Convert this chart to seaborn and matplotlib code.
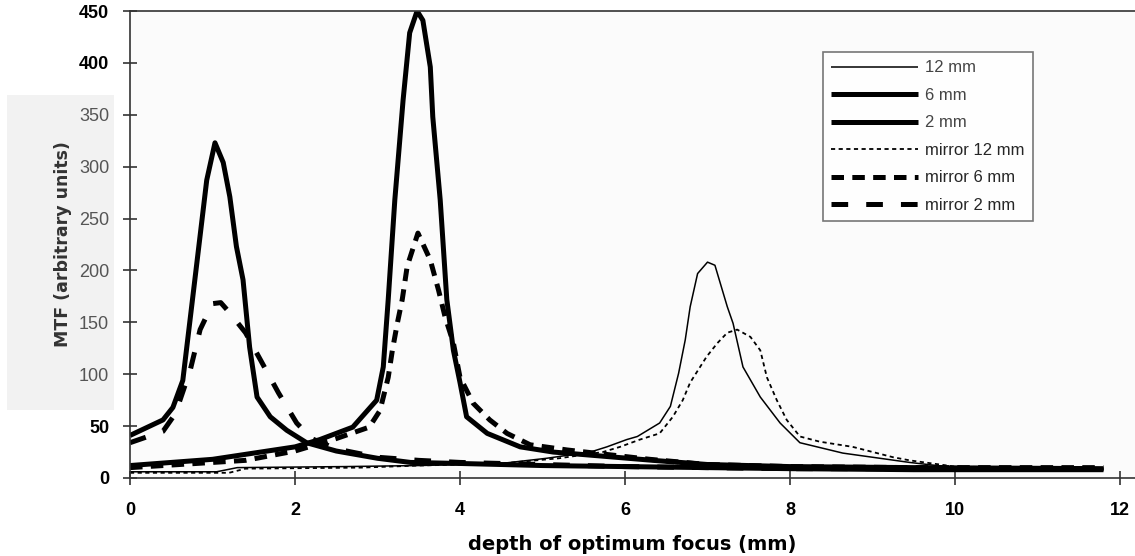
import matplotlib
matplotlib.use("Agg")
import matplotlib.pyplot as plt
import seaborn as sns
import numpy as np
import pandas as pd
from matplotlib.patches import Rectangle

# ---------------- data ----------------
x_12 = [0, 1.05, 1.3, 2.6, 3.5, 4.5, 5.05, 5.58, 5.78, 6.02, 6.15, 6.42, 6.55, 6.65, 6.73,
        6.79, 6.88, 7.0, 7.09, 7.24, 7.31, 7.43, 7.64, 7.88, 8.12, 8.64, 9.45, 10.0, 11.8]
y_12 = [6, 6, 10, 11, 12, 14, 19, 25, 30, 37, 40, 53, 69, 101, 133,
        165, 197, 208, 205, 165, 149, 107, 78, 53, 34, 24, 15, 10, 8]

x_6 = [0, 1.0, 2.0, 2.3, 2.7, 2.99, 3.07, 3.13, 3.21, 3.31, 3.39, 3.48, 3.55, 3.64, 3.67,
       3.76, 3.84, 3.92, 4.0, 4.08, 4.33, 4.73, 5.13, 6.34, 7.0, 8.0, 9.5, 11.8]
y_6 = [12, 18, 30, 37, 49, 75, 107, 172, 268, 364, 429, 450, 441, 396, 348,
       268, 172, 123, 92, 59, 43, 30, 25, 17, 13, 11, 10, 9]

x_2 = [0, 0.4, 0.52, 0.64, 0.81, 0.93, 1.03, 1.13, 1.21, 1.29, 1.37, 1.45, 1.54, 1.7, 1.9,
       2.14, 2.5, 3.0, 3.4, 4.0, 5.0, 6.0, 7.0, 8.0, 9.5, 11.8]
y_2 = [41, 56, 68, 94, 207, 287, 323, 304, 271, 223, 191, 126, 78, 59, 46,
       34, 26, 19, 15, 14, 12, 11, 10, 9, 8, 8]

x_m12 = [0, 1.2, 1.4, 2.8, 3.5, 4.5, 5.2, 5.73, 5.94, 6.18, 6.42, 6.58, 6.7, 6.79, 6.91, 6.99,
         7.12, 7.24, 7.36, 7.52, 7.64, 7.72, 7.84, 7.96, 8.12, 8.36, 8.76, 9.25, 9.45, 10.0, 11.8]
y_m12 = [5, 5, 9, 10, 12, 14, 19, 25, 30, 37, 43, 59, 75, 92, 107, 117,
         130, 140, 143, 136, 123, 97, 75, 56, 40, 35, 30, 20, 17, 11, 9]

x_m6 = [0, 1.4, 2.0, 2.5, 2.9, 3.03, 3.13, 3.18, 3.24, 3.3, 3.36, 3.49, 3.64, 3.74, 3.82,
        3.92, 4.0, 4.16, 4.36, 4.57, 4.85, 5.3, 6.3, 7.0, 8.0, 9.5, 11.8]
y_m6 = [10, 17, 26, 38, 49, 65, 97, 123, 149, 172, 204, 236, 210, 181, 155,
        130, 97, 72, 56, 43, 32, 27, 18, 13, 11, 10, 10]

x_m2 = [0, 0.4, 0.55, 0.73, 0.85, 1.0, 1.1, 1.2, 1.4, 1.58, 1.8, 2.02, 2.2, 2.5, 3.0, 3.5,
        4.0, 5.0, 6.0, 7.0, 8.0, 9.5, 11.8]
y_m2 = [34, 45, 62, 104, 143, 168, 169, 160, 140, 114, 82, 53, 38, 28, 20, 17,
        15, 13, 11, 10, 9, 9, 9]

series_labels = ["12 mm", "6 mm", "2 mm", "mirror 12 mm", "mirror 6 mm", "mirror 2 mm"]
x_ticks = [0, 2, 4, 6, 8, 10, 12]
y_ticks = [0, 50, 100, 150, 200, 250, 300, 350, 400, 450]
x_title = "depth of optimum focus (mm)"
y_title = "MTF (arbitrary units)"

# ---------------- style ----------------
sns.set_theme(style="white")
plt.rcParams["font.family"] = ["Liberation Sans", "DejaVu Sans"]
plt.rcParams["lines.scale_dashes"] = False

fig = plt.figure(figsize=(11.35, 5.56), dpi=100)
fig.patch.set_facecolor("white")
# light grey scan patch behind the y title
bg = Rectangle((7 / 1135, 1 - 410 / 556), 107 / 1135, 315 / 556,
               transform=fig.transFigure, facecolor="#f2f2f2",
               edgecolor="none", zorder=-10)
fig.patches.append(bg)

ax = fig.add_axes([130 / 1135, 1 - 478 / 556, 1 - 130 / 1135, (478 - 11) / 556])
ax.set_zorder(1)
ax.set_facecolor("#fbfbfb")

styles = [
    dict(lw=1.1, ls="-"),
    dict(lw=3.6, ls="-"),
    dict(lw=3.6, ls="-"),
    dict(lw=1.3, ls=(0, (3, 2.5))),
    dict(lw=3.6, ls=(0, (9, 6))),
    dict(lw=3.6, ls=(0, (12, 13))),
]
data = [(x_12, y_12), (x_6, y_6), (x_2, y_2), (x_m12, y_m12), (x_m6, y_m6), (x_m2, y_m2)]

for (xs, ys), lab, st in zip(data, series_labels, styles):
    sns.lineplot(x=xs, y=ys, ax=ax, color="black", linewidth=st["lw"],
                 linestyle=st["ls"], label=lab, estimator=None, sort=False,
                 solid_capstyle="butt", dash_capstyle="butt")

ax.set_xlim(0, (1135 - 130) / 82.5)
ax.set_ylim(0, 450)
ax.set_xticks(x_ticks)
ax.set_xticklabels([str(t) for t in x_ticks])
ax.set_yticks(y_ticks)
ax.set_yticklabels([str(t) for t in y_ticks])

for s in ["left", "top", "bottom"]:
    ax.spines[s].set_visible(True)
    ax.spines[s].set_color("#333333")
    ax.spines[s].set_linewidth(1.2)
ax.spines["right"].set_visible(False)

ax.tick_params(axis="both", direction="inout", length=10, width=1.2, color="#333333",
               labelsize=13)
ax.tick_params(axis="y", left=True, pad=10)
ax.tick_params(axis="x", bottom=True, pad=12)

for lab in ax.get_xticklabels():
    lab.set_fontweight("bold")
    lab.set_color("black")
for lab in ax.get_yticklabels():
    v = int(lab.get_text())
    if v in (0, 50, 400, 450):
        lab.set_fontweight("bold")
        lab.set_color("black")
    else:
        lab.set_fontweight("normal")
        lab.set_color("#555555")

ax.set_xlabel(x_title, fontsize=14, fontweight="bold", labelpad=12,
              family=["DejaVu Sans"], color="black")
ax.set_ylabel(y_title, fontsize=12.5, fontweight="bold", labelpad=5,
              family=["DejaVu Sans"], color="#333333")

leg = ax.legend(loc="upper left", bbox_to_anchor=((823 - 130) / 1005, 1 - (52 - 11) / 467),
                frameon=True, fancybox=False, fontsize=12, handlelength=5.2,
                handletextpad=0.4, labelspacing=0.75, borderpad=0.5, borderaxespad=0)
leg.get_frame().set_edgecolor("#555555")
leg.get_frame().set_linewidth(1.2)
leg.get_frame().set_facecolor("white")
for t in leg.get_texts()[:3]:
    t.set_color("#444444")

fig.savefig("out.png", dpi=100)
